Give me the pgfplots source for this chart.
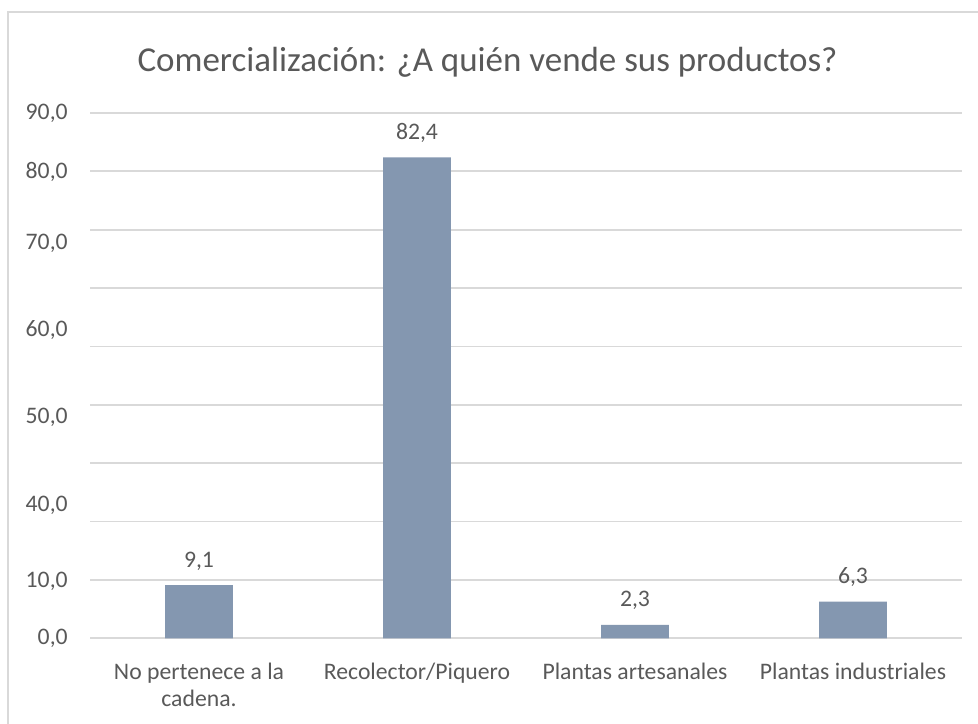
\documentclass[border=0pt]{standalone}
\usepackage{fontspec}
\setmainfont{Carlito}
\usepackage{pgfplots}
\pgfplotsset{compat=1.18}
\definecolor{barcol}{HTML}{8497B0}
\definecolor{txtcol}{HTML}{595959}
\definecolor{gridcol}{HTML}{D9D9D9}

\begin{document}
\begin{tikzpicture}
  % page = 978x723 px, 1px = 0.5063pt, origin at the plot's bottom-left
  \useasboundingbox (-45.57pt,-42.9pt) rectangle (449.6pt,323.2pt);
  \draw[gridcol, line width=0.9pt] (-41.5pt,-60pt) -- (-41.5pt,317.1pt) -- (470pt,317.1pt);
  \begin{axis}[
    at={(0pt,0pt)}, anchor=south west,
    scale only axis,
    width=441.5pt, height=266pt,
    xmin=-0.5, xmax=3.5, ymin=0, ymax=90,
    axis line style={draw=none},
    major tick length=0pt,
    ybar, bar width=34.4pt,
    % gridlines every 10, the labels sit where the reference drew them
    ytick={0,10,...,90},
    yticklabels={},
    ymajorgrids, grid style={gridcol, line width=0.9pt},
    extra y ticks={0,9.7,22.84,37.86,52.8,67.67,79.94,89.94},
    extra y tick labels={{0,0},{10,0},{40,0},{50,0},{60,0},{70,0},{80,0},{90,0}},
    extra y tick style={grid=none},
    yticklabel style={font=\fontsize{12}{14.6}\selectfont, text=txtcol,
      inner sep=0pt, anchor=east, xshift=-11.1pt},
    xtick={0,1,2,3},
    xticklabels={No pertenece a la\\cadena., Recolector/Piquero,
      Plantas artesanales, Plantas industriales},
    xticklabel style={font=\fontsize{12}{13.5}\selectfont, text=txtcol,
      align=center, inner sep=0pt, anchor=north, yshift=-12.5pt},
    point meta=explicit symbolic,
    nodes near coords,
    nodes near coords style={font=\fontsize{12}{14.6}\selectfont, text=txtcol,
      inner sep=0pt, anchor=base, yshift=9.2pt},
  ]
    \addplot[draw=none, fill=barcol] coordinates {
      (0,9.1) [9,1] (1,82.4) [82,4] (2,2.3) [2,3] (3,6.3) [6,3]
    };
  \end{axis}
  \node[anchor=base, text=txtcol, font=\fontsize{17.7}{21}\selectfont, inner sep=0pt]
    at (201.3pt,286.8pt) {Comercialización: ¿A quién vende sus productos?};
\end{tikzpicture}
\end{document}
